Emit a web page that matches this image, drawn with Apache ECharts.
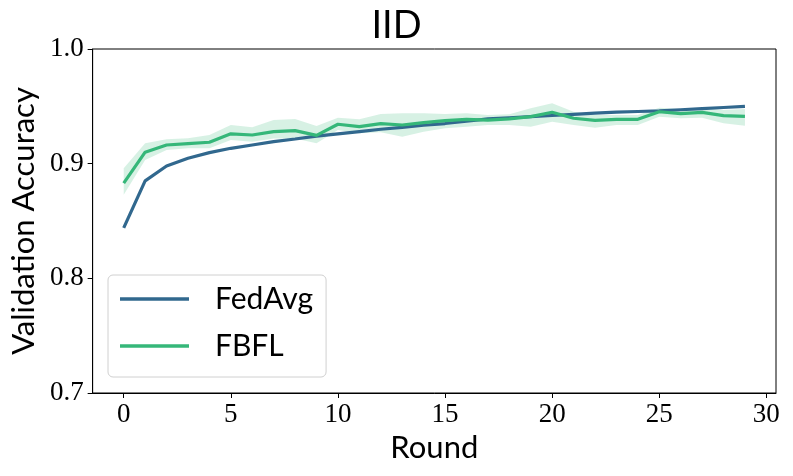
<!DOCTYPE html>
<html>
<head>
<meta charset="utf-8">
<script src="https://cdn.jsdelivr.net/npm/echarts@6/dist/echarts.min.js"></script>
<style>
html,body{margin:0;padding:0;background:#fff;}
#chart{width:793px;height:476px;}
</style>
</head>
<body>
<div id="chart"></div>
<script>
const rounds = [0,1,2,3,4,5,6,7,8,9,10,11,12,13,14,15,16,17,18,19,20,21,22,23,24,25,26,27,28,29];
const fedAvg = [0.844,0.885,0.898,0.9047,0.9096,0.9134,0.9163,0.9192,0.9215,0.924,0.926,0.928,0.930,0.9317,0.9335,0.935,0.937,0.939,0.940,0.941,0.942,0.943,0.944,0.945,0.9455,0.946,0.947,0.948,0.949,0.950];
const fbfl = [0.883,0.910,0.9163,0.9175,0.9187,0.926,0.925,0.9279,0.9288,0.9247,0.9344,0.9323,0.9349,0.9337,0.9358,0.9375,0.9387,0.938,0.939,0.941,0.9448,0.9396,0.9378,0.9387,0.9387,0.9453,0.9436,0.9448,0.9419,0.9413];
const fbflUpper = [0.896,0.9178,0.9213,0.9222,0.925,0.9337,0.9317,0.938,0.939,0.9329,0.940,0.9387,0.9433,0.9439,0.9439,0.9433,0.9439,0.9425,0.943,0.9483,0.9527,0.9453,0.9425,0.9425,0.9425,0.9488,0.9477,0.9488,0.9468,0.9477];
const fbflLower = [0.873,0.9032,0.912,0.9134,0.9134,0.9207,0.9192,0.922,0.922,0.9178,0.9294,0.9265,0.9274,0.9235,0.9279,0.9308,0.9323,0.9337,0.9337,0.9323,0.9366,0.9337,0.9314,0.9337,0.9337,0.941,0.9396,0.940,0.9352,0.9331];
const xTicks = [0,5,10,15,20,25,30];
const yTicks = [0.7,0.8,0.9,1.0];

const C_FED = '#31688e';
const C_FB = '#35b779';
const pairs = (ys) => rounds.map((r,i)=>[r, ys[i]]);

const chart = echarts.init(document.getElementById('chart'), null, {renderer:'canvas'});
chart.setOption({
  backgroundColor:'#fff',
  animation:false,
  title:{
    text:'IID', left:'center', top:2,
    textStyle:{fontFamily:'Lato', fontSize:38, fontWeight:'normal', color:'#000'}
  },
  grid:{left:91, right:17, top:49, bottom:83, show:true, borderColor:'#000', borderWidth:1, backgroundColor:'transparent'},
  legend:{
    left:108, top:275, orient:'vertical',
    data:[{name:'FedAvg'},{name:'FBFL'}],
    icon:'rect', itemWidth:69, itemHeight:3.5, itemGap:11,
    padding:[6,13,13,12],
    borderColor:'#d0d0d0', borderWidth:1, borderRadius:5,
    backgroundColor:'rgba(255,255,255,0.8)',
    textStyle:{fontFamily:'Lato', fontSize:30, color:'#000', lineHeight:36, padding:[0,0,0,21]}
  },
  xAxis:{
    type:'value', min:-1.45, max:30.45,
    name:'Round', nameLocation:'middle', nameGap:38,
    nameTextStyle:{fontFamily:'Lato', fontSize:31, color:'#000'},
    axisLine:{show:true, onZero:false, lineStyle:{color:'#000', width:1}},
    axisTick:{show:true, customValues:xTicks, length:5, lineStyle:{color:'#000'}},
    axisLabel:{customValues:xTicks, fontFamily:'Liberation Serif', fontSize:27, color:'#000', margin:8},
    splitLine:{show:false}
  },
  yAxis:{
    type:'value', min:0.7, max:1.0, interval:0.1,
    name:'Validation Accuracy', nameLocation:'middle', nameGap:46,
    nameTextStyle:{fontFamily:'Lato', fontSize:31, color:'#000'},
    axisLine:{show:true, onZero:false, lineStyle:{color:'#000', width:1}},
    axisTick:{show:true, length:5, lineStyle:{color:'#000'}},
    axisLabel:{fontFamily:'Liberation Serif', fontSize:27, color:'#000', margin:9,
      formatter:(v)=>v.toFixed(1)},
    splitLine:{show:false}
  },
  series:[
    {name:'band', type:'custom', data:[0], silent:true, z:1, clip:true,
     renderItem:function(params, api){
       const pts = [];
       for (let i=0;i<rounds.length;i++) pts.push(api.coord([rounds[i], fbflUpper[i]]));
       for (let i=rounds.length-1;i>=0;i--) pts.push(api.coord([rounds[i], fbflLower[i]]));
       return {type:'polygon', shape:{points:pts}, style:{fill:'rgba(53,183,121,0.2)', stroke:'none'}};
     }},
    {name:'FedAvg', type:'line', data:pairs(fedAvg), symbol:'none',
     lineStyle:{color:C_FED, width:3.2}, itemStyle:{color:C_FED}, z:3},
    {name:'FBFL', type:'line', data:pairs(fbfl), symbol:'none',
     lineStyle:{color:C_FB, width:3.2}, itemStyle:{color:C_FB}, z:4}
  ]
});
</script>
</body>
</html>
